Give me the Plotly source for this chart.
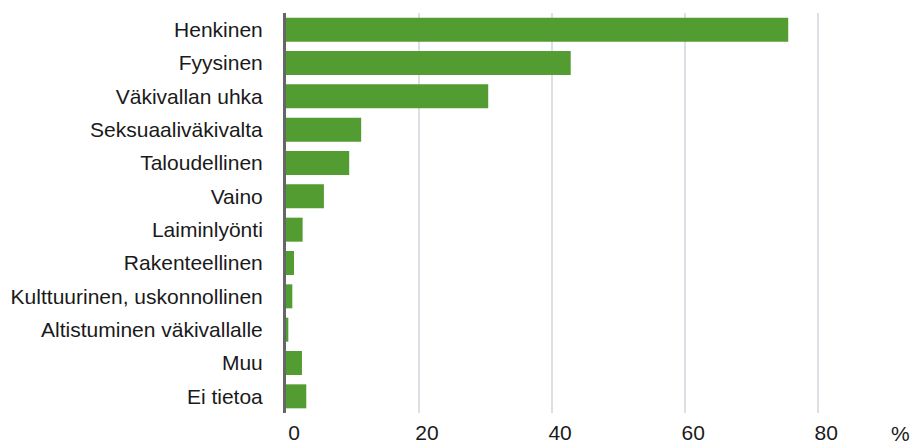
import plotly.graph_objects as go

categories = ["Henkinen", "Fyysinen", "Väkivallan uhka", "Seksuaaliväkivalta",
              "Taloudellinen", "Vaino", "Laiminlyönti", "Rakenteellinen",
              "Kulttuurinen, uskonnollinen", "Altistuminen väkivallalle", "Muu", "Ei tietoa"]
values = [75.5, 42.8, 30.4, 11.3, 9.5, 5.7, 2.5, 1.2, 0.95, 0.35, 2.4, 3.05]
tick_vals = [0, 20, 40, 60, 80]
tick_text = ["0", "20", "40", "60", "80"]
unit_label = "%"

fig = go.Figure(go.Bar(
    x=values, y=categories, orientation="h",
    marker=dict(color="#539c31", line=dict(width=0)),
    hoverinfo="x+y",
))

fig.update_layout(
    width=912, height=445,
    margin=dict(l=286, r=20, t=13, b=32, autoexpand=False),
    paper_bgcolor="white", plot_bgcolor="white",
    font=dict(family="Arial, Liberation Sans, sans-serif", size=21, color="#1a1a1a"),
    bargap=0.28,
    showlegend=False,
)
fig.update_xaxes(
    range=[0, 91.1], tickvals=tick_vals, ticktext=tick_text,
    showgrid=True, gridcolor="#dcdfe4", gridwidth=2,
    zeroline=False, showline=False, ticks="",
    ticklabelshift=8, ticklabelstandoff=5, automargin=False,
)
fig.update_yaxes(
    autorange="reversed", showgrid=False, zeroline=False,
    showline=True, linecolor="#666666", linewidth=3, ticks="",
    ticklabelstandoff=16, automargin=False,
)
fig.add_annotation(
    x=(900 - 286) / 606, y=0, xref="paper", yref="paper", text=unit_label,
    showarrow=False, xanchor="center", yanchor="middle", yshift=-20,
    font=dict(size=21, color="#1a1a1a"),
)
fig.write_html("out.html", config={"displayModeBar": False},
               post_script="document.body.style.margin='0';document.body.style.overflow='hidden';")
